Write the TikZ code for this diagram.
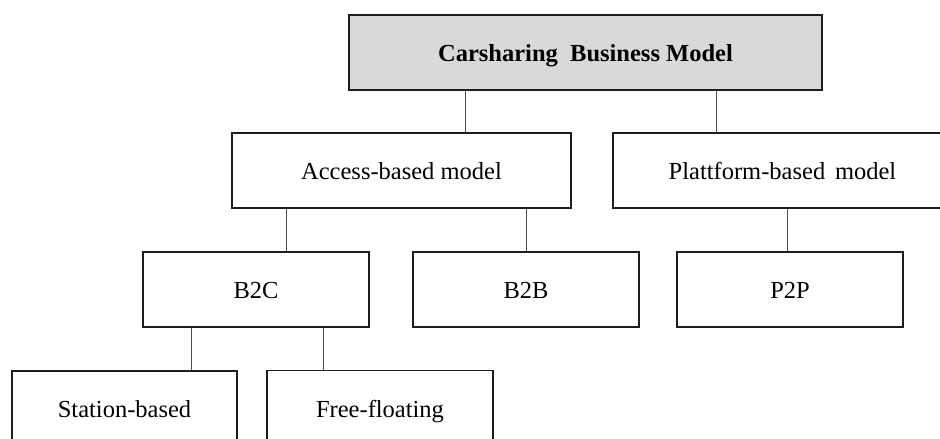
\documentclass[tikz,border=0pt]{standalone}
\usepackage{fontspec}
\setmainfont{Liberation Serif}
\definecolor{topfill}{RGB}{217,217,217}
\definecolor{boxline}{RGB}{30,30,30}
\definecolor{linkline}{RGB}{80,80,80}
\tikzset{
  box/.style={draw=boxline, line width=1.8pt, inner sep=0pt, anchor=center,
    text height=18pt, text depth=0pt,
    font=\fontsize{24.5}{28}\selectfont},
  link/.style={draw=linkline, line width=1pt},
}
\begin{document}
\begin{tikzpicture}[x=1pt,y=-1pt]
\useasboundingbox (0,0) rectangle (940,439);
\fill[white] (0,0) rectangle (940,439);
% boxes
\node[box, fill=topfill, minimum width=473pt, minimum height=75pt,
  font=\fontsize{24.5}{28}\selectfont\bfseries] (top) at (585.5,52.5) {Carsharing\hspace{0.5em}Business Model};
\node[box, minimum width=339pt, minimum height=75pt] (access) at (401.5,170.5) {Access-based model};
\node[box, minimum width=339pt, minimum height=75pt] (platt) at (782.5,170.5) {Plattform-based\hspace{0.4em}model};
\node[box, minimum width=226pt, minimum height=75pt] (b2c) at (256,289.5) {B2C};
\node[box, minimum width=226pt, minimum height=75pt] (b2b) at (526,289.5) {B2B};
\node[box, minimum width=226pt, minimum height=75pt] (p2p) at (790,289.5) {P2P};
\node[box, minimum width=225pt, minimum height=75pt] (station) at (124.5,408.5) {Station-based};
\node[box, minimum width=226pt, minimum height=75pt] (free) at (380,408) {Free-floating};
% connector x positions
\coordinate (xa) at (465,0);
\coordinate (xb) at (716,0);
\coordinate (xc) at (286,0);
\coordinate (xd) at (526.5,0);
\coordinate (xe) at (787,0);
\coordinate (xf) at (191,0);
\coordinate (xg) at (323,0);
% connectors
\draw[link] (top.south -| xa) -- (access.north -| xa);
\draw[link] (top.south -| xb) -- (platt.north -| xb);
\draw[link] (access.south -| xc) -- (b2c.north -| xc);
\draw[link] (access.south -| xd) -- (b2b.north -| xd);
\draw[link] (platt.south -| xe) -- (p2p.north -| xe);
\draw[link] (b2c.south -| xf) -- (station.north -| xf);
\draw[link] (b2c.south -| xg) -- (free.north -| xg);
\end{tikzpicture}
\end{document}
